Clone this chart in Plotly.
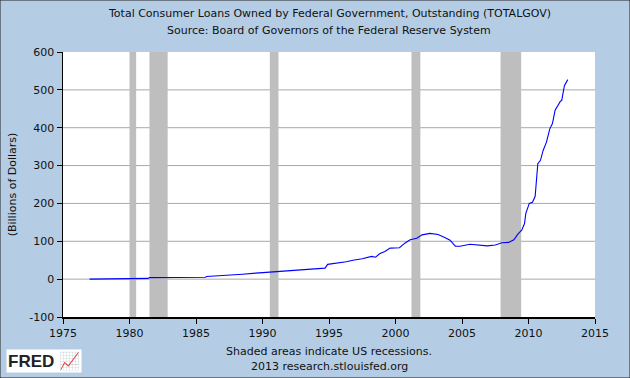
import plotly.graph_objects as go

# Data (decimal year, billions of dollars)
years = [1977.0, 1979.6, 1979.7, 1981.4, 1981.5, 1985.7, 1985.8, 1987.5, 1988.5, 1989.5,
         1990.3, 1991.1, 1992.2, 1993.2, 1994.0, 1994.7, 1994.9, 1995.6, 1996.3, 1996.8,
         1997.5, 1998.2, 1998.5, 1998.8, 1999.2, 1999.6, 2000.3, 2000.7, 2001.1, 2001.6,
         2002.0, 2002.6, 2003.2, 2003.7, 2004.1, 2004.5, 2004.85, 2005.6, 2006.35, 2006.9,
         2007.5, 2008.0, 2008.5, 2008.9, 2009.2, 2009.5, 2009.7, 2009.8, 2010.06, 2010.3,
         2010.5, 2010.6, 2010.7, 2010.9, 2011.1, 2011.35, 2011.6, 2011.8, 2012.0, 2012.4,
         2012.5, 2012.7, 2012.95]
values = [0, 0, 1, 2, 4, 5, 7, 10, 13, 16,
          18, 21, 24, 26, 28, 29, 39, 42, 46, 50,
          54, 60, 58, 67, 73, 82, 83, 95, 104, 108,
          117, 121, 118, 110, 103, 87, 87, 92, 89, 88,
          90, 96, 97, 104, 119, 130, 147, 174, 200, 203,
          219, 253, 305, 314, 340, 362, 397, 411, 446, 470,
          472, 511, 527]

rec_start = [1980.0, 1981.5, 1990.55, 2001.2, 2007.9]
rec_end = [1980.5, 1982.87, 1991.2, 2001.87, 2009.45]

x_ticks = [1975, 1980, 1985, 1990, 1995, 2000, 2005, 2010, 2015]
y_ticks = [-100, 0, 100, 200, 300, 400, 500, 600]
y_tick_labels = ["-100", "0", "100", "200", "300", "400", "500", "600"]

BG = "#B4CDE5"
FONT = "DejaVu Sans"

fig = go.Figure()
fig.add_trace(go.Scatter(x=years, y=values, mode="lines",
                         line=dict(color="#0000FF", width=1.1), hoverinfo="skip"))

shapes = []
# horizontal gridlines (inner ticks only; the top edge has none)
for t in y_ticks[1:-1]:
    shapes.append(dict(type="line", xref="paper", yref="y", x0=0, x1=1, y0=t, y1=t,
                       line=dict(color="#A8A8A8", width=1), layer="below"))
for s, e in zip(rec_start, rec_end):
    shapes.append(dict(type="rect", xref="x", yref="paper", x0=s, x1=e, y0=0, y1=1,
                       fillcolor="#BEBEBE", line=dict(width=0), layer="below"))
# axis shadow strip on the left
shapes.append(dict(type="rect", xref="x", yref="paper", xsizemode="pixel",
                   xanchor=x_ticks[0], x0=-3, x1=-0.5, y0=0, y1=1,
                   fillcolor="#9A9A9A", line=dict(width=0), layer="above"))
# outer border
shapes.append(dict(type="rect", xref="paper", yref="paper", x0=-0.1184, x1=1.0658,
                   y0=-0.2302, y1=1.1962, line=dict(color="#222222", width=1),
                   fillcolor="rgba(0,0,0,0)"))

fig.update_layout(
    width=630, height=378,
    margin=dict(l=63, r=35, t=52, b=61),
    paper_bgcolor=BG, plot_bgcolor="white",
    showlegend=False,
    font=dict(family=FONT, size=11, color="#111111"),
    shapes=shapes,
    xaxis=dict(range=[1975, 2015], tickvals=x_ticks, ticks="outside", ticklen=5,
               tickcolor="black", showgrid=False, showline=True, linecolor="black",
               linewidth=1.5, zeroline=False, tickfont=dict(size=11)),
    yaxis=dict(range=[-100, 600], tickvals=y_ticks, ticktext=y_tick_labels,
               ticks="outside", ticklen=5,
               tickcolor="black", showgrid=False,
               showline=True, linecolor="black", linewidth=1.5, zeroline=False,
               title=dict(text="(Billions of Dollars)", font=dict(size=11), standoff=10),
               tickfont=dict(size=11)),
    annotations=[
        dict(text="Total Consumer Loans Owned by Federal Government, Outstanding (TOTALGOV)",
             xref="paper", yref="paper", x=0.5, y=1, yshift=39, showarrow=False,
             xanchor="center", yanchor="middle", font=dict(size=11)),
        dict(text="Source: Board of Governors of the Federal Reserve System",
             xref="paper", yref="paper", x=0.5, y=1, yshift=22, showarrow=False,
             xanchor="center", yanchor="middle", font=dict(size=11)),
        dict(text="Shaded areas indicate US recessions.",
             xref="paper", yref="paper", x=0.5, y=0, yshift=-34, showarrow=False,
             xanchor="center", yanchor="middle", font=dict(size=11)),
        dict(text="2013 research.stlouisfed.org",
             xref="paper", yref="paper", x=0.5, y=0, yshift=-49, showarrow=False,
             xanchor="center", yanchor="middle", font=dict(size=11)),
        dict(text="<b>FRED</b> <span style='color:#5a9a3a'>📈</span>",
             xref="paper", yref="paper", x=0, y=0, xshift=-57, yshift=-44,
             showarrow=False, xanchor="left", yanchor="middle",
             bgcolor="white", borderpad=1,
             font=dict(family="Liberation Sans", size=17, color="#222222")),
    ],
)

fig.write_html("out.html", config={"displayModeBar": False, "staticPlot": True},
               post_script="document.body.style.margin='0';document.body.style.padding='0';")
